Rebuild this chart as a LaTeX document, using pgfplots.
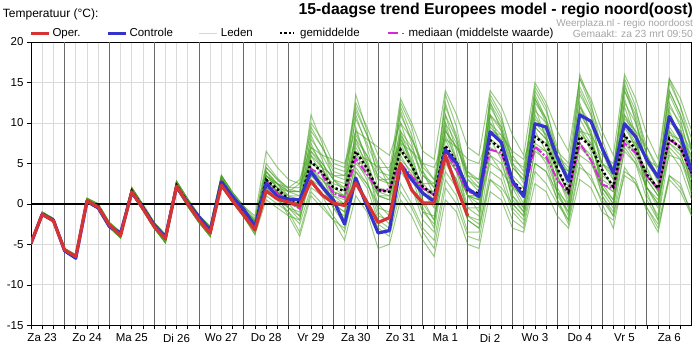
\documentclass[border=0pt]{standalone}
\usepackage{pgfplots}
\pgfplotsset{compat=1.18}
\usepackage{pgfplotstable}
\usepackage{fontspec}
\setmainfont{Liberation Sans}
\definecolor{operred}{RGB}{214,52,52}
\definecolor{ctrlblue}{RGB}{52,52,204}
\definecolor{medmag}{RGB}{214,40,214}
\definecolor{ledgreen}{RGB}{72,162,36}
\definecolor{ledleg}{RGB}{205,222,195}
\definecolor{lgrid}{RGB}{218,218,218}
\definecolor{dgrid}{RGB}{105,105,105}
\definecolor{txtgray}{RGB}{165,165,165}

\pgfplotstableread{
t o c mn md m1 m2 m3 m4 m5 m6 m7 m8 m9 m10 m11 m12 m13 m14 m15 m16 m17 m18 m19 m20 m21 m22 m23 m24
6 -4.8 -4.9 -4.9 -4.9 -4.8 -5.0 -4.9 -4.9 -4.9 -5.0 -4.9 -4.9 -5.0 -4.8 -5.0 -4.9 -4.9 -5.0 -4.8 -4.9 -5.0 -4.9 -4.9 -4.9 -4.8 -5.0 -4.9 -4.9
12 -1.3 -1.3 -1.2 -1.2 -1.0 -1.4 -1.2 -1.2 -1.1 -1.4 -1.2 -1.1 -1.4 -1.0 -1.4 -1.2 -1.1 -1.4 -1.0 -1.2 -1.4 -1.1 -1.2 -1.1 -1.0 -1.4 -1.2 -1.1
18 -2.1 -2.0 -2.0 -2.0 -1.8 -2.2 -2.0 -2.0 -1.9 -2.2 -2.0 -1.9 -2.2 -1.8 -2.2 -2.0 -1.9 -2.2 -1.8 -2.0 -2.2 -1.9 -2.0 -1.9 -1.8 -2.2 -2.0 -1.9
24 -5.7 -5.8 -5.7 -5.7 -5.5 -5.9 -5.7 -5.7 -5.6 -5.9 -5.7 -5.6 -5.9 -5.5 -5.9 -5.7 -5.6 -5.9 -5.5 -5.7 -5.9 -5.6 -5.7 -5.6 -5.5 -5.9 -5.7 -5.6
30 -6.5 -6.7 -6.5 -6.5 -6.3 -6.8 -6.5 -6.5 -6.4 -6.8 -6.5 -6.4 -6.8 -6.3 -6.8 -6.5 -6.4 -6.8 -6.3 -6.5 -6.8 -6.4 -6.5 -6.4 -6.3 -6.8 -6.5 -6.4
36 0.4 0.3 0.4 0.4 0.7 0.2 0.4 0.4 0.6 0.2 0.4 0.6 0.2 0.7 0.2 0.4 0.6 0.2 0.7 0.4 0.2 0.6 0.4 0.6 0.7 0.2 0.4 0.6
42 -0.4 -0.5 -0.3 -0.3 0.0 -0.6 -0.3 -0.3 -0.2 -0.6 -0.3 -0.2 -0.6 0.0 -0.6 -0.3 -0.2 -0.6 0.0 -0.3 -0.6 -0.2 -0.3 -0.2 0.0 -0.6 -0.3 -0.2
48 -2.6 -2.8 -2.6 -2.6 -2.3 -2.9 -2.6 -2.6 -2.5 -2.9 -2.6 -2.5 -2.9 -2.3 -2.9 -2.6 -2.5 -2.9 -2.3 -2.6 -2.9 -2.5 -2.6 -2.5 -2.3 -2.9 -2.6 -2.5
54 -3.9 -3.6 -3.8 -3.8 -3.5 -4.2 -3.8 -3.8 -3.6 -4.2 -3.8 -3.6 -4.2 -3.5 -4.2 -3.8 -3.6 -4.2 -3.5 -3.8 -4.2 -3.6 -3.8 -3.6 -3.5 -4.2 -3.8 -3.6
60 1.5 1.4 1.6 1.6 2.0 1.3 1.6 1.6 1.9 1.3 1.6 1.9 1.3 2.0 1.3 1.6 1.9 1.3 2.0 1.6 1.3 1.9 1.6 1.9 2.0 1.3 1.6 1.9
66 -0.6 -0.5 -0.4 -0.4 -0.1 -0.8 -0.4 -0.4 -0.2 -0.8 -0.4 -0.2 -0.8 -0.1 -0.8 -0.4 -0.2 -0.8 -0.1 -0.4 -0.8 -0.2 -0.4 -0.2 -0.1 -0.8 -0.4 -0.2
72 -2.8 -2.6 -2.6 -2.6 -2.3 -3.0 -2.6 -2.6 -2.4 -3.0 -2.6 -2.4 -3.0 -2.3 -3.0 -2.6 -2.4 -3.0 -2.3 -2.6 -3.0 -2.4 -2.6 -2.4 -2.3 -3.0 -2.6 -2.4
78 -4.3 -4.1 -4.2 -4.2 -3.8 -4.8 -4.5 -4.2 -4.0 -4.5 -4.8 -4.0 -4.5 -3.8 -4.8 -4.2 -4.0 -4.8 -3.8 -4.2 -4.8 -4.0 -4.0 -4.5 -3.8 -4.8 -4.2 -4.5
84 2.2 2.1 2.3 2.3 2.8 1.9 2.0 2.3 2.6 2.0 1.9 2.6 2.0 2.8 1.9 2.3 2.6 1.9 2.8 2.3 1.9 2.6 2.6 2.0 2.8 1.9 2.3 2.0
90 0.0 0.1 0.2 0.2 0.6 -0.3 0.0 0.2 0.4 0.0 -0.3 0.4 0.0 0.6 -0.3 0.2 0.4 -0.3 0.6 0.2 -0.3 0.4 0.4 0.0 0.6 -0.3 0.2 0.0
96 -2.0 -1.6 -1.8 -1.8 -1.4 -2.3 -2.0 -1.8 -1.5 -2.0 -2.3 -1.5 -2.0 -1.4 -2.3 -1.8 -1.5 -2.3 -1.4 -1.8 -2.3 -1.5 -1.5 -2.0 -1.4 -2.3 -1.8 -2.0
102 -3.6 -3.3 -3.3 -3.3 -2.8 -4.0 -3.6 -3.3 -3.0 -3.6 -4.0 -3.0 -3.6 -2.8 -4.0 -3.3 -3.0 -4.0 -2.8 -3.3 -4.0 -3.0 -3.0 -3.6 -2.8 -4.0 -3.3 -3.6
108 2.3 2.7 2.8 2.8 3.5 2.2 2.4 2.8 3.2 2.4 2.2 3.2 2.4 3.5 2.2 2.8 3.2 2.2 3.5 2.8 2.2 3.2 3.2 2.4 3.5 2.2 2.8 2.4
114 0.4 0.9 0.8 0.8 1.4 0.2 0.5 0.8 1.1 0.5 0.2 1.1 0.5 1.4 0.2 0.8 1.1 0.2 1.4 0.8 0.2 1.1 1.1 0.5 1.4 0.2 0.8 0.5
120 -1.4 -0.7 -0.9 -0.9 -0.3 -1.6 -1.3 -0.9 -0.6 -1.3 -1.6 -0.6 -1.3 -0.3 -1.6 -0.9 -0.6 -1.6 -0.3 -0.9 -1.6 -0.6 -0.6 -1.3 -0.3 -1.6 -0.9 -1.3
126 -3.2 -2.8 -2.6 -2.7 -1.8 -3.5 -3.0 -2.5 -2.0 -3.2 -3.8 -2.2 -2.8 -2.4 -3.0 -2.6 -2.0 -3.5 -1.5 -2.9 -3.8 -2.3 -3.0 -2.4 -3.3 -2.7 -2.5 -2.1
132 1.6 2.5 3.0 2.8 5.0 1.0 3.5 3.0 4.5 2.0 4.0 2.5 2.0 4.0 1.5 3.5 3.0 2.5 6.5 3.0 0.5 3.5 3.0 3.5 2.0 4.0 2.5 4.5
138 0.6 0.9 1.8 1.3 3.2 0.0 2.0 1.5 3.0 0.5 2.0 2.0 1.0 2.5 0.5 2.0 2.5 1.0 4.5 1.5 -0.5 2.5 1.5 2.5 1.0 2.5 1.5 3.0
144 0.2 0.6 0.6 0.3 1.8 -1.0 0.5 0.5 2.0 -0.5 -0.5 1.5 0.0 1.0 -1.0 1.0 2.0 -1.5 3.0 0.0 -1.5 1.5 0.0 1.5 -0.5 0.5 0.5 1.5
150 -0.2 0.5 0.2 -0.6 1.5 -2.5 -0.5 0.5 2.0 -1.5 -1.0 2.5 -0.5 1.0 -3.5 0.5 3.0 -2.0 2.5 -0.5 -4.0 1.5 -1.5 1.0 -2.0 0.0 0.0 1.5
156 2.8 4.0 5.2 4.3 8.0 2.0 6.5 5.0 9.0 3.0 7.5 5.0 3.5 11.0 1.5 6.0 7.0 4.5 10.0 4.5 1.0 7.0 6.0 6.5 3.5 8.5 4.0 9.5
162 1.1 2.1 3.9 3.6 6.0 1.0 4.5 4.0 7.0 2.0 4.5 4.5 2.5 7.5 0.0 4.5 6.0 2.5 8.0 3.0 -0.5 5.0 3.5 5.0 2.0 5.5 3.0 7.0
168 0.1 0.5 2.0 1.3 3.5 -1.5 1.0 2.5 4.5 0.0 0.5 3.5 0.5 3.0 -2.0 2.0 5.5 -0.5 5.0 1.0 -2.0 3.0 0.0 3.0 -0.5 1.5 1.5 4.0
174 -0.2 -2.5 1.6 0.8 3.0 -3.5 0.0 2.0 4.0 -1.0 -2.0 3.5 0.0 1.5 -4.5 1.0 5.0 -1.5 4.5 0.5 -3.0 2.5 -1.0 2.0 -2.5 1.0 1.0 3.5
180 2.6 3.2 6.5 5.6 10.5 2.5 9.0 6.0 12.0 4.0 9.5 6.0 4.5 13.5 1.0 7.5 9.0 5.5 12.5 7.0 3.0 8.5 8.0 8.0 4.0 11.0 5.0 11.5
186 0.2 -0.3 4.4 3.7 7.5 0.5 5.5 4.0 8.5 2.5 5.0 5.5 2.5 9.0 -1.0 5.0 8.0 3.0 9.5 4.5 0.5 6.0 4.5 6.0 2.0 7.0 3.5 8.5
192 -2.3 -3.6 1.7 1.7 4.0 -3.0 1.0 1.5 5.0 0.0 -1.0 4.5 -0.5 3.0 -5.5 1.5 7.0 -1.5 6.0 1.0 -2.5 3.0 0.0 3.5 -2.0 2.0 1.0 4.5
198 -1.7 -3.3 1.5 1.8 3.5 -4.0 0.5 1.0 2.0 0.0 -2.5 4.5 -1.0 2.5 -5.0 1.5 6.0 -2.0 4.0 0.5 -3.5 3.0 -1.5 2.5 -3.0 1.5 1.0 3.0
204 5.0 4.8 6.7 5.0 11.0 1.5 10.0 7.0 8.0 6.5 9.0 7.5 4.0 12.5 0.5 8.0 10.0 6.0 13.0 7.5 2.5 9.0 8.5 8.5 4.5 11.5 5.5 12.0
210 1.7 3.0 4.7 3.4 8.0 -0.5 6.0 5.0 5.0 4.5 5.0 6.5 2.0 9.5 -1.5 5.5 8.0 3.5 10.0 4.5 0.0 7.0 4.5 6.5 2.0 7.5 4.0 8.5
216 0.1 1.3 2.1 1.9 4.5 -3.5 1.5 2.0 0.5 2.5 -0.5 5.0 -1.0 4.0 -4.5 2.0 5.0 -1.0 6.5 1.5 -3.0 3.5 0.0 3.5 -2.0 2.5 1.5 4.0
222 0.1 0.3 1.1 1.1 3.0 -5.5 -0.5 1.5 -2.0 2.5 -3.0 4.5 -1.5 1.0 -6.5 0.5 3.0 -2.5 5.5 0.0 -4.5 2.5 -2.0 2.0 -3.5 1.0 0.5 2.0
228 6.0 6.7 7.2 6.6 12.0 2.0 11.0 6.5 4.0 9.0 10.0 8.0 5.0 13.5 0.5 8.5 6.0 7.0 14.0 8.0 3.0 10.0 9.5 9.0 5.5 12.5 6.0 11.0
234 2.1 5.0 5.2 4.2 8.5 0.0 6.5 4.5 2.0 7.0 5.5 7.0 3.0 9.5 -1.0 5.5 4.0 4.0 11.0 5.0 1.0 7.5 5.0 7.0 3.0 8.0 4.0 8.0
240 -1.5 1.9 1.7 1.5 4.0 -4.0 1.0 1.0 -2.0 4.0 -1.5 5.5 -0.5 3.0 -5.0 1.0 1.0 -1.5 7.0 1.0 -3.5 3.0 -0.5 3.5 -2.0 2.0 1.0 3.5
246 nan 0.9 1.3 1.1 2.5 -4.5 -1.0 1.0 -3.0 3.0 -2.5 5.0 -0.5 1.5 -5.5 1.0 0.0 -2.0 6.0 0.5 -3.5 2.0 -1.5 2.0 -3.0 0.5 0.5 3.0
252 nan 8.9 7.9 6.7 13.0 3.0 12.5 8.0 3.0 11.0 11.0 9.0 6.0 13.5 1.5 9.5 5.0 8.0 14.0 9.0 4.0 11.0 10.0 10.0 6.0 12.0 7.0 12.5
258 nan 7.6 6.7 6.3 10.5 1.5 9.0 7.0 2.0 9.0 7.0 8.5 5.0 11.0 0.5 8.0 4.0 5.5 12.0 7.5 3.0 9.5 7.5 8.5 4.0 9.5 6.0 10.0
264 nan 2.8 2.9 2.5 6.0 -2.0 2.0 3.5 0.0 5.5 0.0 6.5 1.0 5.0 -3.0 3.0 2.0 0.5 8.5 2.5 -1.0 4.5 1.0 4.5 -0.5 3.0 2.0 5.0
270 nan 0.9 1.4 1.1 4.0 -3.0 -0.5 2.0 -1.5 4.5 -1.5 5.5 -1.0 2.5 -3.5 1.0 2.0 -1.0 6.0 0.0 -2.5 3.0 -0.5 3.0 -2.0 1.0 1.0 3.5
276 nan 9.9 8.3 7.1 14.0 4.0 13.0 8.5 5.0 12.5 12.0 9.5 6.5 14.5 2.5 10.0 7.0 9.0 15.0 9.5 5.0 11.5 11.0 10.5 7.0 13.5 7.5 13.0
282 nan 9.5 7.3 5.8 11.5 2.5 10.0 7.5 4.0 10.5 8.0 8.0 5.5 12.0 1.5 8.5 6.5 6.5 12.5 8.0 4.0 10.0 8.5 9.0 5.0 10.5 6.5 10.5
288 nan 5.7 4.4 3.0 7.0 0.0 3.5 4.5 1.5 6.5 1.0 6.0 1.5 6.0 -1.5 4.0 5.0 1.5 9.0 3.5 0.5 5.5 2.0 5.0 0.5 4.0 3.0 6.0
294 nan 2.8 1.5 1.3 3.0 -2.0 0.0 1.0 -1.0 5.0 -1.0 4.5 0.0 2.0 -3.0 1.5 4.0 -1.5 6.5 0.5 -2.5 3.5 -0.5 3.0 -2.0 1.5 1.0 4.0
300 nan 11.0 8.3 7.5 13.5 5.0 12.0 9.0 6.0 15.5 12.5 8.5 7.0 16.0 3.0 10.5 9.0 9.5 15.5 9.5 4.5 12.0 11.5 11.0 7.5 14.0 7.5 14.5
306 nan 10.2 7.1 5.4 11.0 3.0 9.0 7.0 5.0 12.0 8.5 7.5 5.5 12.5 2.0 8.0 8.5 6.5 13.0 7.5 3.5 10.0 8.5 9.0 5.5 11.0 6.0 11.5
312 nan 6.9 4.2 2.4 6.5 0.5 2.5 3.5 2.0 8.0 1.5 5.0 2.0 6.5 -1.0 3.0 6.0 1.0 9.0 2.5 0.0 5.0 2.0 5.0 1.0 4.0 2.5 6.5
318 nan 3.8 2.1 1.9 4.5 -1.5 0.5 2.5 0.0 4.0 -0.5 4.0 0.5 3.0 -2.0 2.0 5.0 -1.0 6.0 1.5 -3.0 3.0 0.0 3.5 -1.5 2.0 1.5 4.0
324 nan 9.9 8.5 7.5 15.0 4.5 13.0 8.0 6.5 14.5 12.0 8.0 7.5 15.5 3.5 10.0 10.5 10.0 16.0 9.5 4.0 12.5 11.0 11.0 7.0 14.0 8.0 14.0
330 nan 8.3 6.7 6.3 10.0 2.5 8.5 6.5 5.0 11.5 8.0 7.5 5.5 12.0 2.5 7.5 9.0 7.0 13.0 7.0 3.0 10.0 8.0 9.0 5.0 10.5 6.0 11.0
336 nan 5.4 3.6 3.4 6.0 -0.5 2.0 4.0 2.0 7.0 1.0 5.5 2.0 6.0 -0.5 3.5 7.0 1.5 8.5 3.0 -1.0 5.0 2.0 5.0 0.5 4.5 3.0 6.0
342 nan 3.3 1.9 1.9 3.0 -2.5 0.0 2.0 0.5 4.5 -1.5 4.5 0.0 2.5 -3.0 1.5 4.0 -2.0 5.5 1.0 -3.5 3.5 -0.5 3.0 -2.0 1.5 1.0 3.5
348 nan 10.8 8.1 7.9 14.0 3.5 12.5 7.5 6.0 15.5 11.5 8.5 7.0 15.0 3.0 9.5 10.0 9.0 15.5 9.0 3.5 12.0 10.5 10.5 6.5 13.5 7.5 14.0
354 nan 8.4 6.9 7.1 11.0 2.0 9.5 6.5 5.5 12.0 8.0 8.0 5.5 12.0 1.5 7.5 9.0 6.5 13.0 7.5 2.5 10.0 8.0 9.0 4.5 10.5 6.0 11.0
360 nan 4.0 3.8 3.6 7.0 -1.0 3.0 4.0 2.5 8.0 1.5 6.0 1.5 6.5 -1.5 3.5 6.5 1.0 9.0 3.0 -1.5 5.5 2.0 5.0 0.5 4.5 3.0 6.5
}\ens

\begin{document}
\begin{tikzpicture}
\begin{axis}[
  at={(0,0)}, anchor=south west,
  width=660.7bp, height=283.3bp, scale only axis,
  xmin=6, xmax=360, ymin=-15, ymax=20,
  ytick={-15,-10,...,20},
  xtick={12,36,...,348},
  xticklabels={Za 23,Zo 24,Ma 25,Di 26,Wo 27,Do 28,Vr 29,Za 30,Zo 31,Ma 1,Di 2,Wo 3,Do 4,Vr 5,Za 6},
  minor xtick={6,18,...,354},
  extra x ticks={24,48,...,336},
  extra x tick labels={},
  extra x tick style={grid=major, major grid style={dgrid, line width=0.9bp}},
  xmajorgrids, xminorgrids, ymajorgrids,
  major grid style={lgrid, line width=0.8bp},
  minor grid style={lgrid, line width=0.8bp},
  xtick pos=bottom, ytick pos=left,
  tick align=outside,
  major tick length=4bp, minor tick length=4bp,
  tick style={black, line width=0.6bp},
  tick label style={font=\fontsize{11.5bp}{13bp}\selectfont},
  xticklabel style={yshift=-1bp},
  /pgf/number format/assume math mode=true,
  axis line style={black, line width=0.9bp},
  clip=true,
]
\pgfplotsinvokeforeach{1,...,24}{
  \addplot[ledgreen, opacity=0.55, line width=1bp] table[x=t, y=m#1] {\ens};
}
\addplot[black, line width=1.8bp] coordinates {(6,0) (360,0)};
\addplot[medmag, line width=2bp, dash pattern=on 8bp off 2bp on 2bp off 2bp] table[x=t, y=md] {\ens};
\addplot[black, line width=2.4bp, dash pattern=on 2.4bp off 2.4bp] table[x=t, y=mn] {\ens};
\addplot[ctrlblue, line width=3.2bp, line join=round] table[x=t, y=c] {\ens};
\addplot[operred, line width=3.2bp, line join=round] table[x=t, y=o] {\ens};
\end{axis}
% titles
\node[anchor=base west, inner sep=0, font=\fontsize{12bp}{14bp}\selectfont] at (-28.3bp,308bp) {Temperatuur (°C):};
\node[anchor=base east, inner sep=0, font=\fontsize{15.8bp}{18bp}\selectfont\bfseries] at (662bp,310.3bp) {15-daagse trend Europees model - regio noord(oost)};
\node[anchor=base east, inner sep=0, text=txtgray, font=\fontsize{10bp}{12bp}\selectfont] at (662bp,298.6bp) {Weerplaza.nl - regio noordoost};
\node[anchor=base east, inner sep=0, text=txtgray, font=\fontsize{10.3bp}{12bp}\selectfont] at (662bp,288.2bp) {Gemaakt: za 23 mrt 09:50};
% legend
\begin{scope}[every node/.style={anchor=base west, inner sep=0, font=\fontsize{11.5bp}{13bp}\selectfont}]
\draw[operred, line width=3.2bp] (-0.3bp,292bp) -- (18.3bp,292bp);
\node at (21.3bp,288.6bp) {Oper.};
\draw[ctrlblue, line width=3.2bp] (77.3bp,292bp) -- (95bp,292bp);
\node at (98.3bp,288.6bp) {Controle};
\draw[ledleg, line width=1.5bp] (168.3bp,292bp) -- (185.7bp,292bp);
\node at (189.7bp,288.6bp) {Leden};
\draw[black, line width=2.4bp, dash pattern=on 2.4bp off 2bp] (249bp,292bp) -- (262.3bp,292bp);
\node at (269bp,288.6bp) {gemiddelde};
\draw[medmag, line width=2.2bp] (357.3bp,292bp) -- (367.3bp,292bp);
\draw[medmag, line width=1.5bp] (371bp,292bp) -- (372.5bp,292bp);
\node at (377.3bp,288.6bp) {mediaan (middelste waarde)};
\end{scope}
\pgfresetboundingbox
\path (-31bp,-30.7bp) rectangle (668bp,325.3bp);
\end{tikzpicture}
\end{document}
